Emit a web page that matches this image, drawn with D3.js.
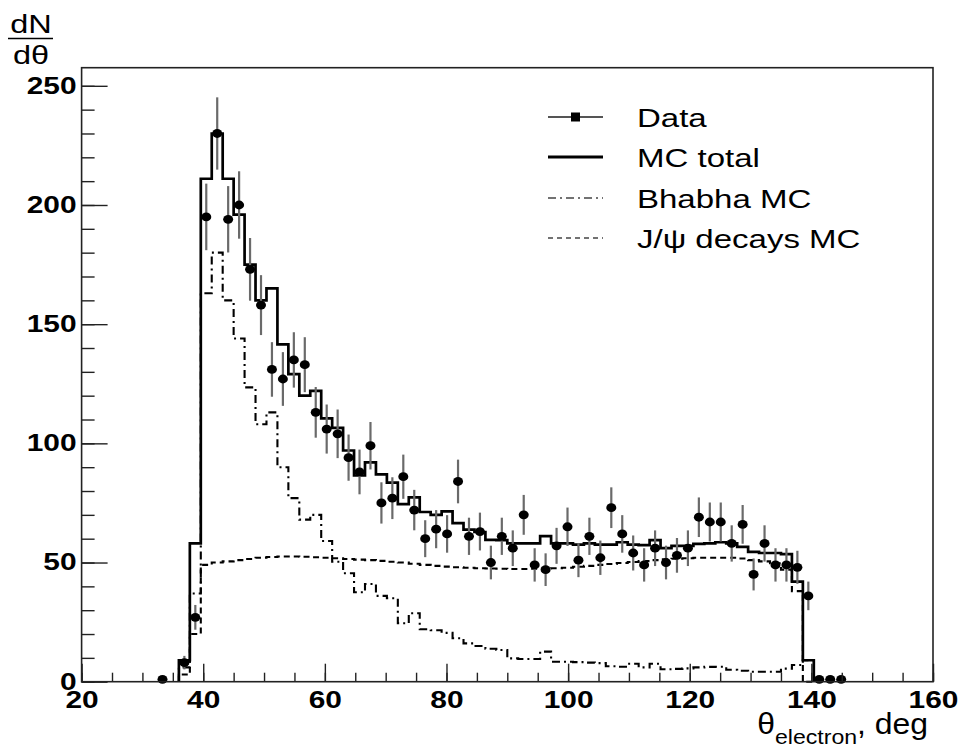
<!DOCTYPE html>
<html><head><meta charset="utf-8">
<script src="https://cdn.jsdelivr.net/npm/d3@7"></script>
<style>body{margin:0;background:#fff}svg{display:block}text{font-family:"Liberation Sans",Arial,Helvetica,sans-serif}</style>
</head><body>
<svg id="chart" width="959" height="748"></svg>
<script>
// ---- data ----
const binWidth = 1.8;            // deg
const mcFirstEdge = 36.0;        // low edge of first MC bin
const mcTotal = [9,58,211,230,211,196,175,160,165,141.5,129,120,122,110.5,106.5,97,86.5,92,87,83.5,
  74.5,77.3,71.2,70,71.5,66.5,63.8,62.8,59.5,59.4,58,58,58,61.1,58,58,57.5,58,57.5,57.5,
  58.5,57.5,57.3,59.4,56,57,57,57.8,58,58.5,58,56.6,54.5,54,54,53.5,42,9];
const bhabhaMC = [6,37,163,180,160,144,123.5,108,113,90,77,68,70,59,50.3,45.5,37.5,41,36,35,
  24.5,28.7,22,21.6,20.5,18.2,16.1,15,13.8,13.3,9.8,9.5,9.5,12.6,8.4,8.4,8.2,8,7.8,6.5,
  6.3,7.5,6,7.5,5.2,5.4,5.6,6,6.2,6.3,5,4.6,4.2,4.2,4.2,5.5,7,9];
const jpsiMC = [3,20,49,50,50.5,51,51.5,52,52.3,52.5,52.5,52.4,52.2,52,51.8,51.5,51.2,51,50.7,50.3,
  50,49.5,49,48.6,48.3,48,47.8,47.6,47.5,47.4,47.3,47.3,47.4,47.5,47.6,47.8,48.2,48.6,49,49.4,
  49.8,50.2,50.6,51,51.3,51.6,51.8,52,52,52,52,51.7,51,50.5,49.7,47,38,0];
const dataFirstCenter = 33.3;
const dataCounts = [1,0,8,27,195,230,194,200,173,158,131,127,135,133,113,106,104,94,88,99,
  75,77,86,72,60,64,62,84,61,63,50,61,56,70,49,47,57,65,51,61,
  52,73,62,54,49,56,50,53,56,69,67,67,58,66,45,58,49,49,48,36,
  1,1,1];
const xTicks = [20,40,60,80,100,120,140,160];
const yTicks = [0,50,100,150,200,250];
const legendLabels = ["Data","MC total","Bhabha MC","J/\u03c8 decays MC"];

// ---- scales ----
const svg = d3.select("#chart");
const x = d3.scaleLinear().domain([20,160]).range([81.6,933]);
const y = d3.scaleLinear().domain([0,257.6]).range([681.7,67.7]);

// horizontally stretched text (reference glyphs are wider than the font)
function stretch(sel, sx){
  sel.each(function(){
    const t = d3.select(this);
    const tx = +t.attr("x") || 0, ty = +t.attr("y") || 0;
    t.attr("x",0).attr("y",0).attr("transform",`translate(${tx},${ty}) scale(${sx},1)`);
  });
}

function histPath(vals){
  const pts = [[mcFirstEdge,0]];
  vals.forEach((v,i)=>{
    const lo = mcFirstEdge + i*binWidth, hi = lo + binWidth;
    pts.push([lo,v],[hi,v]);
  });
  pts.push([mcFirstEdge + vals.length*binWidth, 0]);
  return d3.line().x(d=>x(d[0])).y(d=>y(d[1]))(pts);
}

// MC histograms
svg.append("path").attr("d",histPath(bhabhaMC)).attr("fill","none").attr("stroke","#000")
  .attr("stroke-width",2.1).attr("stroke-dasharray","8,4,2,4");
svg.append("path").attr("d",histPath(jpsiMC)).attr("fill","none").attr("stroke","#000")
  .attr("stroke-width",2.1).attr("stroke-dasharray","6,4");
svg.append("path").attr("d",histPath(mcTotal)).attr("fill","none").attr("stroke","#000")
  .attr("stroke-width",2.7);

// data points
const pts = dataCounts.map((n,i)=>({t: dataFirstCenter + i*binWidth, n})).filter(d=>d.n>0);
svg.append("g").selectAll("line").data(pts).join("line")
  .attr("x1",d=>x(d.t)).attr("x2",d=>x(d.t))
  .attr("y1",d=>y(d.n+Math.sqrt(d.n))).attr("y2",d=>y(Math.max(0,d.n-Math.sqrt(d.n))))
  .attr("stroke","#6a6a6a").attr("stroke-width",2.2);
svg.append("g").selectAll("ellipse").data(pts).join("ellipse")
  .attr("cx",d=>x(d.t)).attr("cy",d=>y(d.n)).attr("rx",5).attr("ry",4.4).attr("fill","#000");

// axes
const yMajor = d3.axisLeft(y).tickValues(yTicks).tickSize(-26).tickPadding(5);
const yMinor = d3.axisLeft(y).tickValues(d3.range(0,257,10)).tickSize(-13).tickFormat("");
const xMajor = d3.axisBottom(x).tickValues(xTicks).tickSize(-18).tickPadding(0);
const xMinor = d3.axisBottom(x).tickValues(d3.range(20,161,5)).tickSize(-9).tickFormat("");

function styleAxis(g){
  g.select(".domain").remove();
  g.selectAll("line").attr("stroke","#222").attr("stroke-width",1.4);
  g.selectAll("text").attr("fill","#000").style("font-size","23px").style("font-weight","bold");
}
svg.append("g").attr("transform","translate(81.6,0)").call(yMinor).call(styleAxis);
const gy = svg.append("g").attr("transform","translate(81.6,0)").call(yMajor).call(styleAxis);
stretch(gy.selectAll("text"), 1.3);
svg.append("g").attr("transform","translate(0,681.7)").call(xMinor).call(styleAxis);
const gx = svg.append("g").attr("transform","translate(0,681.7)").call(xMajor).call(styleAxis);
gx.selectAll("text").attr("y",26).attr("dy","0");
stretch(gx.selectAll("text"), 1.3);

// frame
svg.append("rect").attr("x",81.6).attr("y",67.7).attr("width",933-81.6).attr("height",681.7-67.7)
  .attr("fill","none").attr("stroke","#222").attr("stroke-width",1.6);

// y title dN/dθ
const yt1 = svg.append("text").attr("x",31).attr("y",33).attr("text-anchor","middle").style("font-size","26px").text("dN");
svg.append("line").attr("x1",8).attr("x2",53).attr("y1",38.5).attr("y2",38.5).attr("stroke","#000").attr("stroke-width",1.6);
const yt2 = svg.append("text").attr("x",31).attr("y",64).attr("text-anchor","middle").style("font-size","26px").text("d\u03b8");
stretch(yt1,1.25); stretch(yt2,1.25);

// x title
const xt = svg.append("text").attr("x",928).attr("y",734).attr("text-anchor","end").style("font-size","29px");
xt.append("tspan").text("\u03b8");
xt.append("tspan").attr("dy",10).style("font-size","21px").text("electron");
xt.append("tspan").attr("dy",-10).text(", deg");
stretch(xt,1.1);

// legend
const legY = [117,157,198,238];
const lg = svg.append("g");
legendLabels.forEach((lab,i)=>{
  const t = lg.append("text").attr("x",637).attr("y",legY[i]+9.5).style("font-size","26px").text(lab);
  stretch(t,1.27);
});
lg.append("line").attr("x1",548).attr("x2",603).attr("y1",legY[0]).attr("y2",legY[0]).attr("stroke","#555").attr("stroke-width",2);
lg.append("rect").attr("x",571).attr("y",legY[0]-4.5).attr("width",9).attr("height",9).attr("fill","#000");
lg.append("line").attr("x1",548).attr("x2",603).attr("y1",legY[1]).attr("y2",legY[1]).attr("stroke","#000").attr("stroke-width",2.8);
lg.append("line").attr("x1",548).attr("x2",603).attr("y1",legY[2]).attr("y2",legY[2]).attr("stroke","#444").attr("stroke-width",1.6).attr("stroke-dasharray","8,4,2,4");
lg.append("line").attr("x1",548).attr("x2",603).attr("y1",legY[3]).attr("y2",legY[3]).attr("stroke","#444").attr("stroke-width",1.6).attr("stroke-dasharray","5,4");
</script>
</body></html>
